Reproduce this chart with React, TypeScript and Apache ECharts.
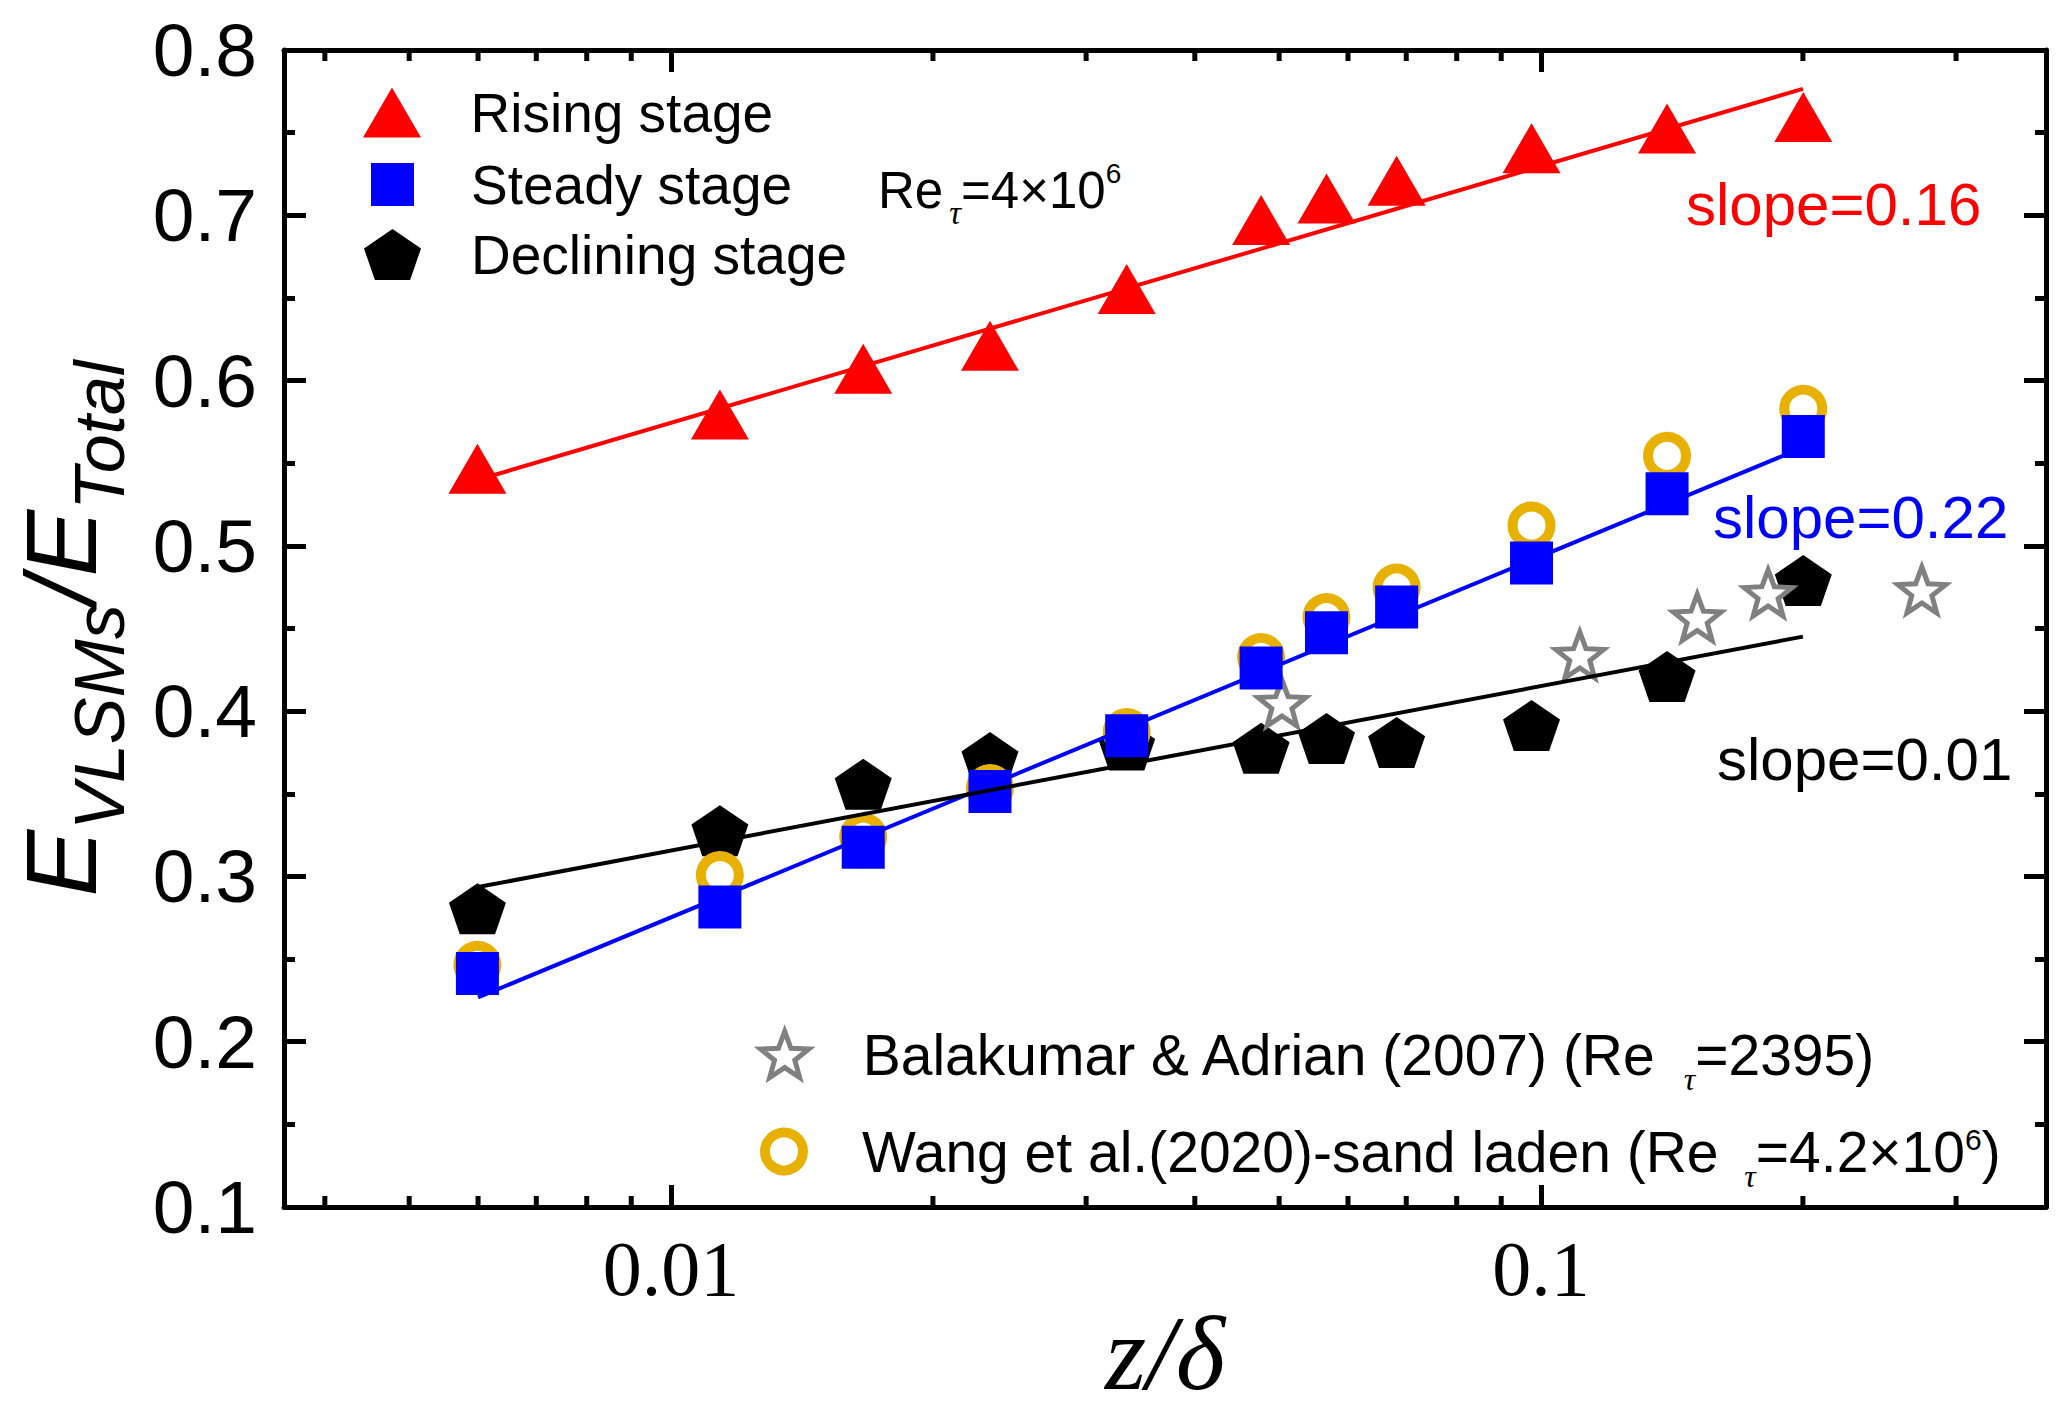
import React, { useRef, useEffect } from "react"
import * as echarts from "echarts"

// z/δ positions shared by the three stages and the Wang et al. data
const zPos = [0.00599, 0.01138, 0.01663, 0.02326, 0.0334, 0.04767, 0.05668, 0.06824, 0.09752, 0.1396, 0.2002]

const risingStage = [0.5466, 0.5795, 0.6072, 0.621, 0.6554, 0.6971, 0.7101, 0.7209, 0.7405, 0.7525, 0.7594]
const steadyStage = [0.2413, 0.2815, 0.3177, 0.3514, 0.3851, 0.4261, 0.4475, 0.463, 0.4897, 0.5316, 0.5662]
const decliningStage = [0.2805, 0.3277, 0.3558, 0.3719, 0.3795, 0.3776, 0.3834, 0.3811, 0.3913, 0.4209, 0.479]
const wangSand = [0.2465, 0.3008, 0.324, 0.3535, 0.3874, 0.4328, 0.4569, 0.4748, 0.5123, 0.5545, 0.583]

// Balakumar & Adrian (2007)
const balakumarZ = [0.05037, 0.1108, 0.1512, 0.1824, 0.274]
const balakumarE = [0.405, 0.434, 0.4567, 0.4715, 0.4733]

// fitted lines, end points
const fitZ = [0.006, 0.2]
const risingFit = [0.54, 0.7765]
const steadyFit = [0.2268, 0.5595]
const decliningFit = [0.2936, 0.4451]

// axes
const X_MIN = 0.00359
const X_MAX = 0.3806
const Y_MIN = 0.1
const Y_MAX = 0.8
const Y_STEP = 0.1
const xMinorTicks = [0.004, 0.005, 0.006, 0.007, 0.008, 0.009, 0.02, 0.03, 0.04, 0.05, 0.06, 0.07, 0.08, 0.09, 0.2, 0.3]

const RED = "#FF0000"
const BLUE = "#0000FF"
const GOLD = "#E8B000"
const GREY = "#808080"
const SANS = "Liberation Sans"
const SERIF = "Liberation Serif"

const TRIANGLE_ICON = "path://M29,0L58,50L0,50Z"
const SQUARE_ICON = "path://M0,0H10V10H0Z"
const PENTAGON = "path://M0,-28.19L28.5,-8.71L17.62,22.81L-17.62,22.81L-28.5,-8.71Z"
const STAR =
  "path://M0,-50L12.34,-16.99L47.55,-15.45L19.97,6.49L29.39,40.45L0,21L-29.39,40.45L-19.97,6.49L-47.55,-15.45L-12.34,-16.99Z"

const pairs = (xs: number[], ys: number[]) => xs.map((x, i) => [x, ys[i]])

export default function App() {
  const chartRef = useRef<HTMLDivElement>(null)

  useEffect(() => {
    if (!chartRef.current) return
    const chart = echarts.init(chartRef.current, undefined, { renderer: "svg" })

    const axisLine = { show: true, onZero: false, lineStyle: { color: "#000", width: 5 } }
    const majorTick = { show: true, inside: true, length: 22, lineStyle: { color: "#000", width: 5 } }
    const minorTick = { show: true, splitNumber: 2, length: 11, lineStyle: { color: "#000", width: 5 } }

    const legendText = { fontFamily: SANS, fontSize: 55, color: "#000", lineHeight: 36 }
    const refRich = {
      a: { fontFamily: SANS, fontSize: 57, color: "#000" },
      t: { fontFamily: SERIF, fontStyle: "italic", fontSize: 32, color: "#000", padding: [48, 0, 0, 10] },
      s: { fontFamily: SANS, fontSize: 30, color: "#000", padding: [0, 0, 24, 0] },
    }
    // legend boxes are placed by the icon's left edge, so left = icon centre - icon width / 2
    const legendBase = {
      orient: "vertical",
      padding: 0,
      itemWidth: 147,
      selectedMode: false,
      textStyle: legendText,
    }

    const option = {
      animation: false,
      grid: { left: 284, right: 21, top: 50, bottom: 212, outerBoundsMode: "none", containLabel: false },
      legend: [
        { ...legendBase, left: 363, top: 85, itemHeight: 50, data: [{ name: "Rising stage", icon: TRIANGLE_ICON }] },
        { ...legendBase, left: 371, top: 157, itemHeight: 43, data: [{ name: "Steady stage", icon: SQUARE_ICON }] },
        { ...legendBase, left: 364, top: 227, itemHeight: 51, data: [{ name: "Declining stage", icon: PENTAGON }] },
        {
          ...legendBase,
          left: 758,
          top: 1026,
          itemWidth: 146,
          itemHeight: 46,
          itemStyle: { color: "#fff", borderColor: GREY, borderWidth: 5 },
          data: [{ name: "Balakumar & Adrian (2007)", icon: STAR }],
          formatter: () => "{a|Balakumar & Adrian (2007) (Re }{t|τ}{a|=2395)}",
          textStyle: { ...legendText, rich: refRich },
        },
        {
          ...legendBase,
          left: 760,
          top: 1123,
          itemWidth: 146,
          itemHeight: 38,
          itemStyle: { color: "#fff", borderColor: GOLD, borderWidth: 10 },
          data: [{ name: "Wang et al.(2020)-sand laden", icon: "circle" }],
          formatter: () => "{a|Wang et al.(2020)-sand laden (Re }{t|τ}{a|=4.2×10}{s|6}{a|)}",
          textStyle: { ...legendText, rich: refRich },
        },
      ],
      xAxis: [
        {
          type: "log",
          logBase: 10,
          min: X_MIN,
          max: X_MAX,
          axisLine,
          axisTick: majorTick,
          minorTick: { show: false },
          splitLine: { show: false },
          axisLabel: {
            fontFamily: SERIF,
            fontSize: 78,
            color: "#000",
            margin: 22,
            showMinLabel: false,
            showMaxLabel: false,
          },
          name: "z/δ",
          nameLocation: "middle",
          nameGap: 93,
          nameMoveOverlap: false,
          nameTextStyle: { fontFamily: SERIF, fontStyle: "italic", fontSize: 106, lineHeight: 106, color: "#000" },
        },
        {
          type: "log",
          logBase: 10,
          position: "top",
          min: X_MIN,
          max: X_MAX,
          axisLine,
          axisTick: majorTick,
          minorTick: { show: false },
          splitLine: { show: false },
          axisLabel: { show: false },
        },
      ],
      yAxis: [
        {
          type: "value",
          min: Y_MIN,
          max: Y_MAX,
          interval: Y_STEP,
          axisLine,
          axisTick: majorTick,
          minorTick,
          splitLine: { show: false },
          axisLabel: {
            fontFamily: SANS,
            fontSize: 75,
            color: "#000",
            margin: 27,
            formatter: (v: number) => v.toFixed(1),
          },
          name: "{m|E}{s|VLSMs}{m|/E}{s|Total}",
          nameLocation: "middle",
          nameRotate: 90,
          nameGap: 183,
          nameMoveOverlap: false,
          nameTextStyle: {
            lineHeight: 80,
            rich: {
              m: { fontFamily: SANS, fontStyle: "italic", fontSize: 100, color: "#000", lineHeight: 80 },
              s: {
                fontFamily: SANS,
                fontStyle: "italic",
                fontSize: 70,
                color: "#000",
                lineHeight: 80,
                padding: [77, 0, 0, 0],
              },
            },
          },
        },
        {
          type: "value",
          position: "right",
          min: Y_MIN,
          max: Y_MAX,
          interval: Y_STEP,
          axisLine,
          axisTick: majorTick,
          minorTick,
          splitLine: { show: false },
          axisLabel: { show: false },
        },
      ],
      graphic: [
        {
          type: "text",
          x: 878,
          y: 190,
          style: {
            text: "{m|Re}{t|τ}{m|=4×10}{s|6}",
            align: "left",
            verticalAlign: "middle",
            lineHeight: 40,
            rich: {
              m: { fontFamily: SANS, fontSize: 51, fill: "#000" },
              t: { fontFamily: SERIF, fontStyle: "italic", fontSize: 33, fill: "#000", padding: [45, 0, 0, 6] },
              s: { fontFamily: SANS, fontSize: 28, fill: "#000", padding: [0, 0, 34, 0] },
            },
          },
        },
        {
          type: "text",
          x: 1686,
          y: 204,
          style: { text: "slope=0.16", fill: RED, fontFamily: SANS, fontSize: 60, align: "left", verticalAlign: "middle" },
        },
        {
          type: "text",
          x: 1713,
          y: 517,
          style: { text: "slope=0.22", fill: BLUE, fontFamily: SANS, fontSize: 60, align: "left", verticalAlign: "middle" },
        },
        {
          type: "text",
          x: 1717,
          y: 759,
          style: { text: "slope=0.01", fill: "#000", fontFamily: SANS, fontSize: 60, align: "left", verticalAlign: "middle" },
        },
      ],
      series: [
        {
          name: "rising fit",
          type: "line",
          data: pairs(fitZ, risingFit),
          symbol: "none",
          lineStyle: { color: RED, width: 4 },
        },
        {
          name: "steady fit",
          type: "line",
          data: pairs(fitZ, steadyFit),
          symbol: "none",
          lineStyle: { color: BLUE, width: 4 },
        },
        {
          name: "declining fit",
          type: "line",
          data: pairs(fitZ, decliningFit),
          symbol: "none",
          lineStyle: { color: "#000", width: 4 },
        },
        {
          name: "Declining stage",
          type: "scatter",
          symbol: PENTAGON,
          symbolKeepAspect: false,
          symbolSize: [57, 51],
          itemStyle: { color: "#000", opacity: 1 },
          data: pairs(zPos, decliningStage),
        },
        {
          name: "Balakumar & Adrian (2007)",
          type: "scatter",
          symbol: STAR,
          symbolKeepAspect: false,
          symbolSize: [48, 46],
          itemStyle: { color: "#fff", borderColor: GREY, borderWidth: 5, opacity: 1 },
          data: pairs(balakumarZ, balakumarE),
        },
        {
          name: "Wang et al.(2020)-sand laden",
          type: "scatter",
          symbol: "circle",
          symbolSize: 38,
          itemStyle: { color: "#fff", borderColor: GOLD, borderWidth: 10, opacity: 1 },
          data: pairs(zPos, wangSand),
        },
        {
          name: "Steady stage",
          type: "scatter",
          symbol: "rect",
          symbolSize: 43,
          itemStyle: { color: BLUE, opacity: 1 },
          data: pairs(zPos, steadyStage),
        },
        {
          name: "Rising stage",
          type: "scatter",
          symbol: "triangle",
          symbolSize: [58, 50],
          itemStyle: { color: RED, opacity: 1 },
          data: pairs(zPos, risingStage),
        },
        {
          // log-axis minor ticks on the bottom and top frame
          name: "minor ticks",
          type: "custom",
          silent: true,
          clip: false,
          z: 10,
          data: xMinorTicks.map((v) => [v, Y_MIN]),
          renderItem: (_params: any, api: any) => {
            const v = api.value(0)
            const b = api.coord([v, Y_MIN])
            const t = api.coord([v, Y_MAX])
            const style = { stroke: "#000", lineWidth: 5 }
            return {
              type: "group",
              children: [
                { type: "line", shape: { x1: b[0], y1: b[1], x2: b[0], y2: b[1] - 11 }, style },
                { type: "line", shape: { x1: t[0], y1: t[1], x2: t[0], y2: t[1] + 11 }, style },
              ],
            }
          },
        },
      ],
    }

    chart.setOption(option as any)

    const handleResize = () => chart.resize()
    window.addEventListener("resize", handleResize)
    return () => {
      window.removeEventListener("resize", handleResize)
      chart.dispose()
    }
  }, [])

  return (
    <div
      ref={chartRef}
      style={{ position: "fixed", left: 0, top: 0, width: "100vw", height: "100vh", background: "#fff" }}
    />
  )
}
